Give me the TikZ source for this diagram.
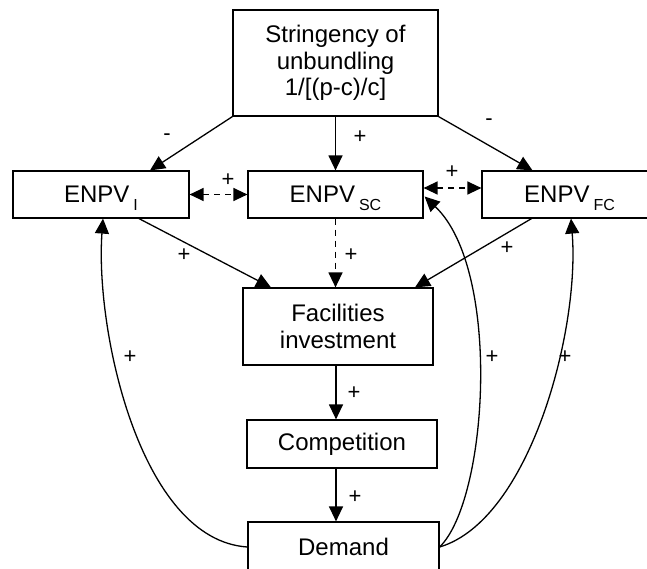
\documentclass[tikz,border=0pt]{standalone}
\usepackage{fontspec}
\setmainfont{Liberation Sans}
\usetikzlibrary{calc}
\usetikzlibrary{arrows.meta}

\tikzset{
  box/.style={draw, line width=1.2pt, inner sep=0pt, align=center, font=\fontsize{24}{26.5}\selectfont},
  lbl/.style={inner sep=0pt, font=\fontsize{22}{22}\selectfont},
  arr/.style={line width=1.3pt, -{Triangle[length=15pt,width=14pt]}},
  dasharr/.style={line width=1.3pt, {Triangle[length=14pt,width=13pt]}-{Triangle[length=14pt,width=13pt]}, dash pattern=on 6pt off 5pt},
}
\newcommand{\enpv}[1]{ENPV\hspace{4pt}\smash{\raisebox{-8pt}{\fontsize{16}{16}\selectfont #1}}}

\begin{document}
\begin{tikzpicture}[x=1pt, y=-1pt]
\useasboundingbox (0,0) rectangle (647,569);

\node[box, minimum width=205pt, minimum height=106pt] (top) at (335.5,63) {Stringency of\\unbundling\\1/[(p-c)/c]};
\node[box, minimum width=176pt, minimum height=47pt] (enpvI) at (101,194.5) {\enpv{I}};
\node[box, minimum width=175pt, minimum height=47pt] (enpvSC) at (335.5,194.5) {\enpv{SC}};
\node[box, minimum width=175pt, minimum height=47pt] (enpvFC) at (569.5,194.5) {\enpv{FC}};
\node[box, minimum width=190pt, minimum height=77pt] (fac) at (338,326.5) {Facilities\\investment};
\node[box, minimum width=190pt, minimum height=48pt] (comp) at (342,444) {Competition};
\node[box, minimum width=191pt, minimum height=50pt] (dem) at (343.5,547) {Demand};

% stringency to the three ENPVs
\draw[arr] (top.south west) -- ([xshift=49pt]enpvI.north);
\draw[arr] (top.south) -- (enpvSC.north);
\draw[arr] (top.south east) -- ([xshift=-37pt]enpvFC.north);

\draw[dasharr] (enpvI.east) -- (enpvSC.west);
\draw[dasharr] ([yshift=6.5pt]enpvSC.east) -- ([yshift=6.5pt]enpvFC.west);

\draw[arr] ([xshift=38pt]enpvI.south) -- ([xshift=-67pt]fac.north);
\draw[arr, dash pattern=on 6pt off 5pt] (enpvSC.south) -- (enpvSC.south |- fac.north);
\draw[arr] ([xshift=-38pt]enpvFC.south) -- ([xshift=77pt]fac.north);

\draw[arr] ([xshift=-2pt]fac.south) -- ([xshift=-2pt]fac.south |- comp.north);
\draw[arr] ([xshift=-6pt]comp.south) -- ([xshift=-6pt]comp.south |- dem.north);

% feedback from demand
\draw[arr] (dem.west) .. controls (140,540) and (95,330) .. ([xshift=2pt]enpvI.south);
\draw[arr] (dem.east) .. controls (488,500) and (502,270) .. ([xshift=1pt,yshift=-2pt]enpvSC.east);
\draw[arr] (dem.east) .. controls (530,520) and (580,330) .. ([xshift=1.5pt]enpvFC.south);

\node[lbl] (l1) at (167,137) {-};
\node[lbl] (l2) at (360,137) {+};
\node[lbl] (l3) at (489,122) {-};
\node[lbl] (l4) at (228,180) {+};
\node[lbl] (l5) at (452,172) {+};
\node[lbl] (l6) at (184,255) {+};
\node[lbl] (l7) at (351,255) {+};
\node[lbl] (l8) at (507,248) {+};
\node[lbl] (l9) at (354,393) {+};
\node[lbl] (l10) at (355,497) {+};
\node[lbl] (l11) at (130,357) {+};
\node[lbl] (l12) at (492,357) {+};
\node[lbl] (l13) at (565,357) {+};
\end{tikzpicture}
\end{document}
